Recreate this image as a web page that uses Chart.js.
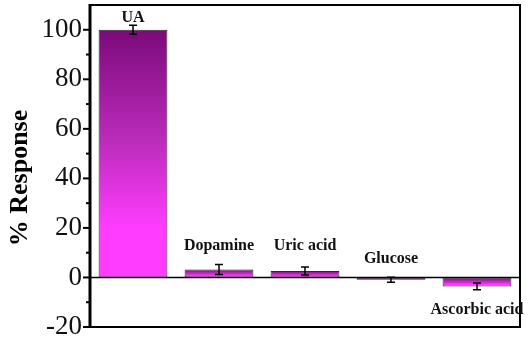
<!DOCTYPE html>
<html>
<head>
<meta charset="utf-8">
<script src="https://cdn.jsdelivr.net/npm/chart.js@4/dist/chart.umd.min.js"></script>
<style>
html,body{margin:0;padding:0;background:#fff;}
#wrap{width:529px;height:341px;position:relative;}
</style>
</head>
<body>
<div id="wrap"><canvas id="c" width="529" height="341"></canvas></div>
<script>
const categories = ['UA', 'Dopamine', 'Uric acid', 'Glucose', 'Ascorbic acid'];
const responses = [100, 3.2, 2.6, -0.9, -3.6];
const errors = [1.8, 2.0, 1.6, 1.0, 1.4];
const yTicks = [-20, 0, 20, 40, 60, 80, 100];
const yTitle = '% Response';

const SERIF = '"Liberation Serif", "Times New Roman", serif';

function barGradient(ctx) {
  const chart = ctx.chart;
  const area = chart.chartArea;
  if (!area || ctx.parsed === undefined) return '#e040e0';
  const ys = chart.scales.y;
  const v = ctx.parsed.y;
  const p1 = ys.getPixelForValue(v), p0 = ys.getPixelForValue(0);
  const top = Math.min(p0, p1), bot = Math.max(p0, p1);
  if (bot - top < 1) return '#7b0a7b';
  const g = chart.ctx.createLinearGradient(0, top, 0, bot);
  g.addColorStop(0, '#7b0a7b');
  g.addColorStop(0.45, '#bb2cbb');
  g.addColorStop(0.8, '#ff3cff');
  g.addColorStop(1, '#ff3cff');
  return g;
}

const decor = {
  id: 'decor',
  afterDatasetsDraw(chart) {
    const c = chart.ctx, a = chart.chartArea;
    const ys = chart.scales.y, xs = chart.scales.x;
    c.save();
    // zero line
    c.strokeStyle = '#000'; c.lineWidth = 1.5;
    const z = ys.getPixelForValue(0);
    c.beginPath(); c.moveTo(a.left, z); c.lineTo(a.right, z); c.stroke();
    // error bars
    c.lineWidth = 1.5;
    responses.forEach((v, i) => {
      const x = xs.getPixelForValue(i);
      const yt = ys.getPixelForValue(v + errors[i]);
      const yb = ys.getPixelForValue(v - errors[i]);
      c.beginPath();
      c.moveTo(x, yt); c.lineTo(x, yb);
      c.moveTo(x - 4, yt); c.lineTo(x + 4, yt);
      c.moveTo(x - 4, yb); c.lineTo(x + 4, yb);
      c.stroke();
    });
    // frame
    c.lineWidth = 2;
    c.strokeRect(a.left, a.top, a.right - a.left, a.bottom - a.top);
    c.lineWidth = 3;
    c.beginPath(); c.moveTo(a.left, a.top - 1); c.lineTo(a.left, a.bottom + 1); c.stroke();
    // ticks (major + minor)
    c.lineWidth = 2;
    for (let v = ys.min; v <= ys.max; v += 10) {
      if (v === ys.max) continue;
      const y = ys.getPixelForValue(v);
      const len = (v % 20 === 0) ? 7 : 4;
      c.beginPath(); c.moveTo(a.left - len, y); c.lineTo(a.left, y); c.stroke();
    }
    // category labels
    c.fillStyle = '#111';
    c.font = 'bold 16px ' + SERIF;
    c.textAlign = 'center'; c.textBaseline = 'middle';
    const offs = [-7, -19, -21, -23, 20];
    responses.forEach((v, i) => {
      const x = xs.getPixelForValue(i);
      const ref = v >= 0 ? ys.getPixelForValue(v + errors[i]) : ys.getPixelForValue(v - errors[i]);
      c.fillText(categories[i], x, ref + offs[i]);
    });
    // y title
    c.font = 'bold 26px ' + SERIF;
    c.translate(20, 178);
    c.rotate(-Math.PI / 2);
    c.fillStyle = '#000';
    c.fillText(yTitle, 0, 0);
    c.restore();
  }
};

new Chart(document.getElementById('c'), {
  type: 'bar',
  data: {
    labels: categories,
    datasets: [{
      data: responses,
      backgroundColor: barGradient,
      borderColor: '#2a2a2a',
      borderWidth: 1,
      borderSkipped: false,
      barPercentage: 0.8,
      categoryPercentage: 1.0
    }]
  },
  options: {
    responsive: false,
    animation: false,
    layout: { padding: { top: 5, right: 9, bottom: 14, left: 0 } },
    plugins: { legend: { display: false }, tooltip: { enabled: false } },
    scales: {
      x: {
        display: true,
        grid: { display: false, drawTicks: false },
        border: { display: false },
        ticks: { display: false },
        afterFit(s) { s.height = 0; s.paddingLeft = 0; s.paddingRight = 0; }
      },
      y: {
        min: -20, max: 110,
        afterBuildTicks(s) { s.ticks = yTicks.map(v => ({ value: v })); },
        grid: { display: false, drawTicks: false },
        border: { display: false },
        ticks: {
          padding: 8,
          color: '#111',
          font: { family: SERIF, size: 27 }
        },
        afterFit(s) { s.width = 90; s.paddingTop = 0; s.paddingBottom = 0; }
      }
    }
  },
  plugins: [decor]
});
</script>
</body>
</html>
